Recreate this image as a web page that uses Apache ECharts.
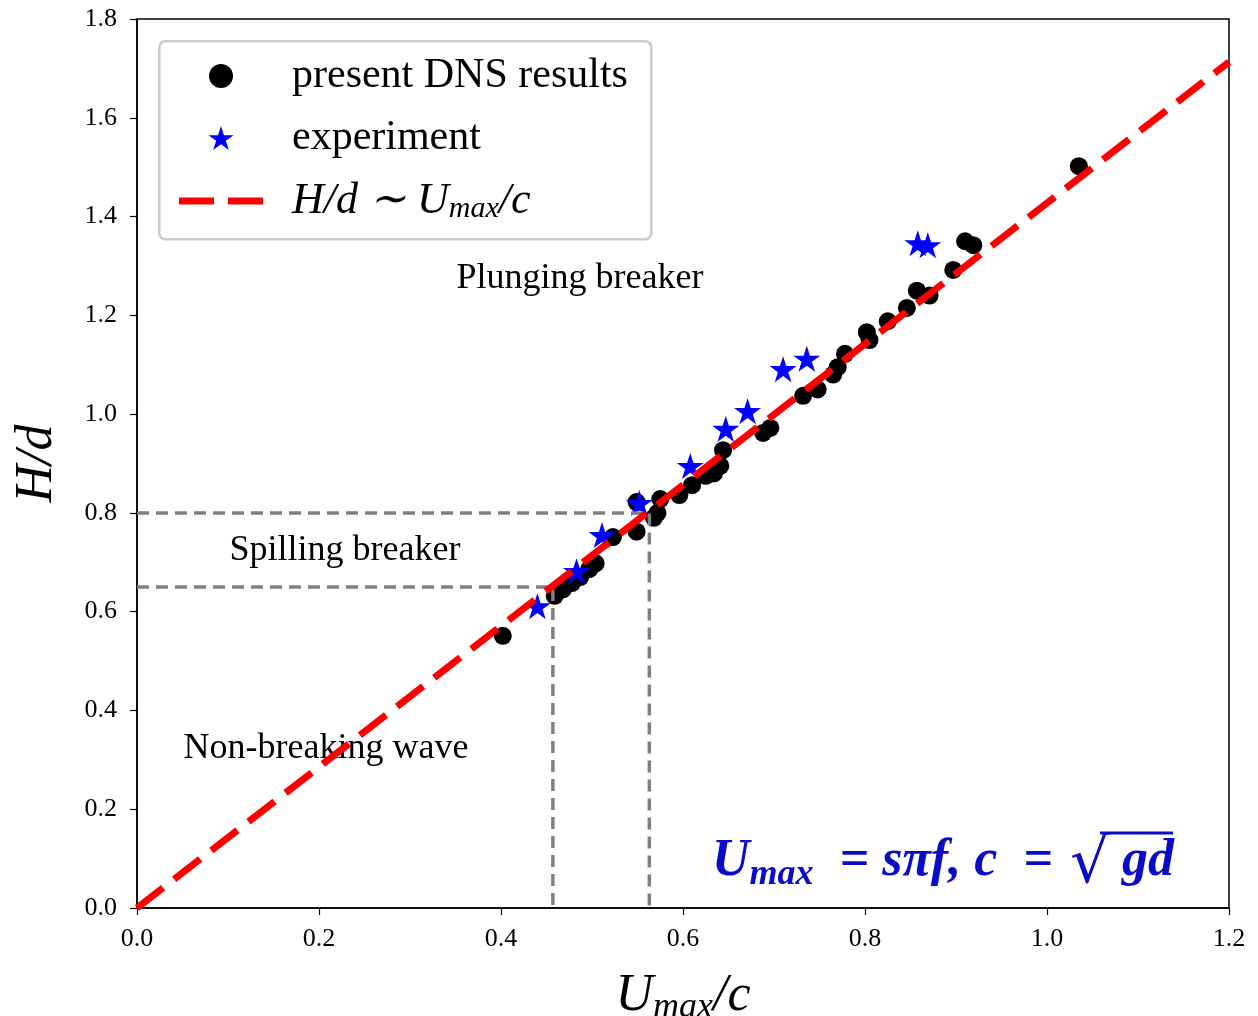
<!DOCTYPE html>
<html>
<head>
<meta charset="utf-8">
<script src="https://cdn.jsdelivr.net/npm/echarts@6/dist/echarts.min.js"></script>
<style>html,body{margin:0;padding:0;background:#fff}#c{width:1258px;height:1016px}</style>
</head>
<body>
<div id="c"></div>
<script>
// DNS results (U_max/c, H/d)
const dnsX = [0.402,0.459,0.468,0.478,0.487,0.497,0.504,0.523,0.549,0.549,0.568,0.572,0.575,0.596,0.610,0.625,0.634,0.641,0.644,0.688,0.696,0.732,0.748,0.765,0.770,0.778,0.802,0.805,0.825,0.846,0.857,0.871,0.897,0.910,0.919,1.035];
const dnsY = [0.551,0.632,0.645,0.658,0.670,0.686,0.698,0.751,0.762,0.822,0.790,0.800,0.828,0.836,0.856,0.875,0.880,0.895,0.927,0.962,0.972,1.037,1.050,1.080,1.095,1.122,1.166,1.150,1.188,1.215,1.250,1.240,1.292,1.350,1.342,1.502];
// experiment
const expX = [0.440,0.483,0.511,0.552,0.608,0.647,0.671,0.710,0.736,0.858,0.869];
const expY = [0.611,0.682,0.755,0.820,0.895,0.970,1.006,1.091,1.112,1.346,1.342];
// fit line H/d ~ U_max/c
const fitX = [0.0, 1.2];
const fitY = [0.0, 1.713];
// regime boundaries
const spillX = [0.0, 0.457, 0.457];
const spillY = [0.65, 0.65, 0.0];
const plungeX = [0.0, 0.563, 0.563];
const plungeY = [0.8, 0.8, 0.0];
const xTicks = [0.0,0.2,0.4,0.6,0.8,1.0,1.2];
const yTicks = [0.0,0.2,0.4,0.6,0.8,1.0,1.2,1.4,1.6,1.8];

const zip = (a,b) => a.map((v,i)=>[v,b[i]]);
const serif = 'Liberation Serif';
const blue = '#0a0ac8';
const starPath = 'path://M0,-1L0.2245,-0.309L0.951,-0.309L0.363,0.118L0.588,0.809L0,0.382L-0.588,0.809L-0.363,0.118L-0.951,-0.309L-0.2245,-0.309Z';
const dashIcon = 'path://M0,0H35V7H0Z M49,0H84V7H49Z';

const chart = echarts.init(document.getElementById('c'), null, {renderer:'canvas'});
chart.setOption({
  animation:false,
  backgroundColor:'#fff',
  grid:{left:137,right:29,top:19,bottom:108,outerBoundsMode:'none',containLabel:false,show:true,borderColor:'#000',borderWidth:1.5,backgroundColor:'transparent'},
  xAxis:{type:'value',min:0,max:1.2,interval:0.2,
    name:'{i|U}{s|max}{i|/c}',nameLocation:'middle',nameGap:58,
    nameTextStyle:{rich:{i:{fontFamily:serif,fontStyle:'italic',fontSize:52,color:'#000'},s:{fontFamily:serif,fontStyle:'italic',fontSize:36,color:'#000',padding:[24,0,0,0]}}},
    axisLine:{show:true,lineStyle:{color:'#000',width:1.5}},
    axisTick:{show:true,length:7,lineStyle:{color:'#000',width:1.2}},
    axisLabel:{margin:18,fontFamily:serif,fontSize:26,color:'#000',formatter:v=>v.toFixed(1)},
    splitLine:{show:false}},
  yAxis:{type:'value',min:0,max:1.8,interval:0.2,
    name:'H/d',nameLocation:'middle',nameGap:74,nameRotate:90,
    nameTextStyle:{fontFamily:serif,fontStyle:'italic',fontSize:52,color:'#000'},
    axisLine:{show:true,lineStyle:{color:'#000',width:1.5}},
    axisTick:{show:true,length:7,lineStyle:{color:'#000',width:1.2}},
    axisLabel:{margin:20,fontFamily:serif,fontSize:26,color:'#000',formatter:v=>v.toFixed(1)},
    splitLine:{show:false}},
  legend:{orient:'vertical',left:174,top:50,itemWidth:84,itemHeight:24,itemGap:20,
    data:[{name:'present DNS results',icon:'circle',itemHeight:22},{name:'experiment',icon:starPath,itemHeight:27},{name:'fit',icon:dashIcon,itemStyle:{color:'#ff0000'}}],
    textStyle:{fontFamily:serif,fontSize:42,color:'#000',lineHeight:42,padding:[0,0,0,24],
      rich:{j:{fontFamily:serif,fontStyle:'italic',fontSize:44,color:'#000'},
            s:{fontFamily:serif,fontStyle:'italic',fontSize:30,color:'#000',padding:[16,0,0,0]}}},
    formatter:n=> n==='fit' ? '{j|H/d ∼ U}{s|max}{j|/c}' : n
  },
  graphic:[
    {type:'rect',left:158,top:40,z:-1,shape:{width:492,height:198,r:6},style:{fill:'#fff',stroke:'#cccccc',lineWidth:2.5}},
    {type:'text',x:580,y:279,style:{text:'Plunging breaker',font:'36px "Liberation Serif"',fill:'#000',textAlign:'center',textVerticalAlign:'middle'}},
    {type:'text',x:345,y:551,style:{text:'Spilling breaker',font:'36px "Liberation Serif"',fill:'#000',textAlign:'center',textVerticalAlign:'middle'}},
    {type:'text',x:326,y:749,style:{text:'Non-breaking wave',font:'36px "Liberation Serif"',fill:'#000',textAlign:'center',textVerticalAlign:'middle'}},
    {type:'text',x:712,y:862,z:10,style:{text:'{a|U}{b|max}{a|\u2002= sπf, c\u2002=}',textVerticalAlign:'middle',
      rich:{a:{fontFamily:serif,fontStyle:'italic',fontWeight:'bold',fontSize:52,fill:blue},
            b:{fontFamily:serif,fontStyle:'italic',fontWeight:'bold',fontSize:36,fill:blue,padding:[26,0,0,0]}}}},
    {type:'text',x:1070,y:866,z:10,style:{text:'√',font:'62px "DejaVu Serif"',fill:blue,textVerticalAlign:'middle'}},
    {type:'text',x:1174,y:862,z:10,style:{text:'gd',font:'italic bold 52px "Liberation Serif"',fill:blue,textAlign:'right',textVerticalAlign:'middle'}},
    {type:'line',z:10,shape:{x1:1100,y1:833,x2:1173,y2:833},style:{stroke:blue,lineWidth:3}}
  ],
  series:[
    {name:'present DNS results',type:'scatter',data:zip(dnsX,dnsY),symbol:'circle',symbolSize:18,itemStyle:{color:'#000',opacity:1},z:2},
    {name:'experiment',type:'scatter',data:zip(expX,expY),symbol:starPath,symbolSize:[27,26],itemStyle:{color:'#0000ff',opacity:1},z:3},
    {name:'spill',type:'line',data:zip(spillX,spillY),symbol:'none',lineStyle:{color:'#808080',width:3.5,type:[12,7]},z:4,silent:true},
    {name:'plunge',type:'line',data:zip(plungeX,plungeY),symbol:'none',lineStyle:{color:'#808080',width:3.5,type:[12,7]},z:4,silent:true},
    {name:'fit',type:'line',data:zip(fitX,fitY),symbol:'none',lineStyle:{color:'#ff0000',width:7,type:[33,14]},itemStyle:{color:'#ff0000'},z:5}
  ]
});
</script>
</body>
</html>
